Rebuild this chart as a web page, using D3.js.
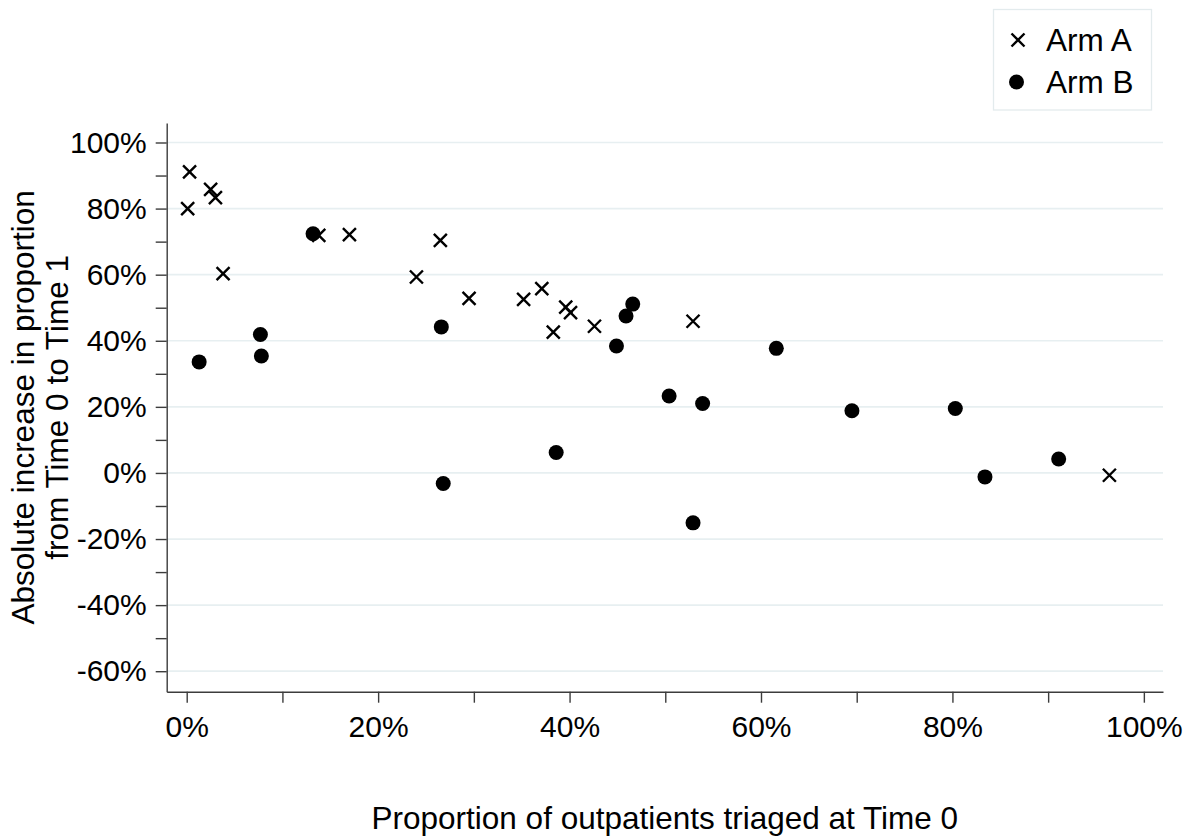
<!DOCTYPE html>
<html>
<head>
<meta charset="utf-8">
<script src="https://cdn.jsdelivr.net/npm/d3@7"></script>
<style>
  body { margin: 0; background: #ffffff; }
  text { font-family: "Liberation Sans", Arial, sans-serif; fill: #000; }
</style>
</head>
<body>
<svg id="chart" width="1193" height="836"></svg>
<script>
// Arm A (crosses): proportion triaged at Time 0 (%), absolute increase (%)
const armA_x = [0.3, 0.1, 2.5, 3.0, 3.8, 13.8, 17.0, 24.0, 26.5, 29.5, 35.2, 37.1, 39.6, 40.1, 38.3, 42.6, 52.9, 96.4];
const armA_y = [91.1, 80.0, 85.8, 83.3, 60.3, 71.9, 72.1, 59.3, 70.4, 52.8, 52.5, 55.8, 50.2, 48.5, 42.6, 44.4, 45.9, -0.7];

// Arm B (filled circles)
const armB_x = [1.3, 7.7, 7.8, 13.2, 26.6, 26.8, 38.6, 44.9, 45.9, 46.6, 50.4, 53.9, 52.9, 61.6, 69.5, 80.3, 83.4, 91.1];
const armB_y = [33.6, 41.9, 35.4, 72.4, 44.2, -3.2, 6.2, 38.4, 47.5, 51.1, 23.3, 21.0, -15.1, 37.7, 18.8, 19.5, -1.2, 4.2];

// Axis ticks
const xTicks = [0, 20, 40, 60, 80, 100];
const xMinorTicks = [10, 30, 50, 70, 90];
const yTicks = [-60, -40, -20, 0, 20, 40, 60, 80, 100];
const yMinorTicks = [-50, -30, -10, 10, 30, 50, 70, 90];

const legendLabels = ["Arm A", "Arm B"];
const xTitle = "Proportion of outpatients triaged at Time 0";
const yTitleLines = ["Absolute increase in proportion", "from Time 0 to Time 1"];

const svg = d3.select("#chart");

const x = d3.scaleLinear().domain([-2.09, 102.0]).range([166.7, 1163]);
const y = d3.scaleLinear().domain([-66.2, 105.9]).range([691.7, 123]);

const axisColor = "#3c3c3c";
const gridColor = "#e7eff1";
const tickFont = 30;
const titleFont = 31.5;

// horizontal gridlines at the labelled y ticks
svg.append("g")
  .selectAll("line")
  .data(yTicks)
  .join("line")
  .attr("x1", x.range()[0])
  .attr("x2", x.range()[1])
  .attr("y1", d => y(d))
  .attr("y2", d => y(d))
  .attr("stroke", gridColor)
  .attr("stroke-width", 1.7);

// y axis
const yAxis = svg.append("g")
  .attr("transform", `translate(${x.range()[0]},0)`)
  .call(d3.axisLeft(y).tickValues(yTicks).tickSize(11).tickSizeOuter(0)
    .tickPadding(9).tickFormat(d => d + "%"));
svg.append("g")
  .attr("transform", `translate(${x.range()[0]},0)`)
  .call(d3.axisLeft(y).tickValues(yMinorTicks).tickSize(11).tickSizeOuter(0).tickFormat(""))
  .select(".domain").remove();

// x axis
const xAxis = svg.append("g")
  .attr("transform", `translate(0,${y.range()[0]})`)
  .call(d3.axisBottom(x).tickValues(xTicks).tickSize(11).tickSizeOuter(0)
    .tickPadding(13).tickFormat(d => d + "%"));
svg.append("g")
  .attr("transform", `translate(0,${y.range()[0]})`)
  .call(d3.axisBottom(x).tickValues(xMinorTicks).tickSize(11).tickSizeOuter(0).tickFormat(""))
  .select(".domain").remove();

svg.selectAll(".domain, .tick line")
  .attr("stroke", axisColor)
  .attr("stroke-width", 1.4);
svg.selectAll(".tick text")
  .attr("font-size", tickFont)
  .attr("font-family", "'Liberation Sans', Arial, sans-serif")
  .attr("fill", "#000");

// marker shapes
const crossHalf = 6.5;
function drawCross(g, cx, cy) {
  g.append("path")
    .attr("d", `M${cx - crossHalf},${cy - crossHalf}L${cx + crossHalf},${cy + crossHalf}` +
               `M${cx - crossHalf},${cy + crossHalf}L${cx + crossHalf},${cy - crossHalf}`)
    .attr("stroke", "#000")
    .attr("stroke-width", 2.4)
    .attr("fill", "none");
}

const dataA = armA_x.map((v, i) => ({ x: v, y: armA_y[i] }));
const dataB = armB_x.map((v, i) => ({ x: v, y: armB_y[i] }));

const gA = svg.append("g");
dataA.forEach(d => drawCross(gA, x(d.x), y(d.y)));

svg.append("g")
  .selectAll("circle")
  .data(dataB)
  .join("circle")
  .attr("cx", d => x(d.x))
  .attr("cy", d => y(d.y))
  .attr("r", 7.5)
  .attr("fill", "#000");

// legend
const legend = svg.append("g");
legend.append("rect")
  .attr("x", 993.5).attr("y", 9.5)
  .attr("width", 158).attr("height", 100.5)
  .attr("fill", "#fff")
  .attr("stroke", "#e3ebed")
  .attr("stroke-width", 1.3);
drawCross(legend, 1018, 40);
legend.append("circle").attr("cx", 1016.5).attr("cy", 82).attr("r", 7.5).attr("fill", "#000");
legend.selectAll("text.lg")
  .data(legendLabels)
  .join("text")
  .attr("class", "lg")
  .attr("x", 1046)
  .attr("y", (d, i) => 40 + i * 42)
  .attr("dy", "0.36em")
  .attr("font-size", titleFont)
  .text(d => d);

// axis titles
svg.append("text")
  .attr("x", (x.range()[0] + x.range()[1]) / 2)
  .attr("y", 829)
  .attr("text-anchor", "middle")
  .attr("font-size", titleFont)
  .text(xTitle);

const yTitle = svg.append("text")
  .attr("transform", `translate(0,${(y.range()[0] + y.range()[1]) / 2}) rotate(-90)`)
  .attr("text-anchor", "middle")
  .attr("font-size", titleFont);
yTitle.selectAll("tspan")
  .data(yTitleLines)
  .join("tspan")
  .attr("x", 0)
  .attr("y", (d, i) => 34 + i * 34)
  .text(d => d);
</script>
</body>
</html>
